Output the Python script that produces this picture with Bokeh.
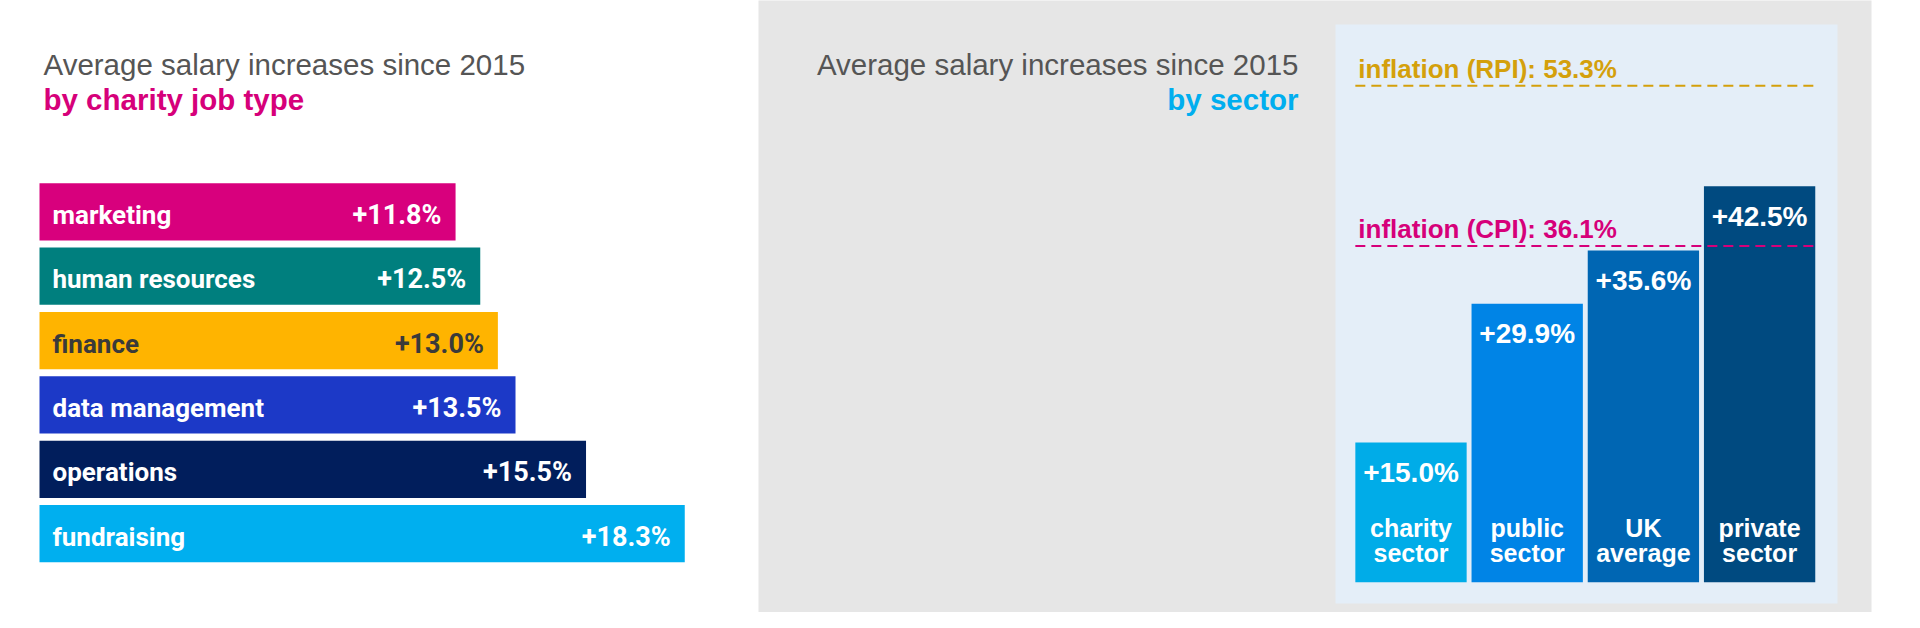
from bokeh.plotting import figure
from bokeh.models import Range1d, BoxAnnotation, Label, ColumnDataSource
from bokeh.core.properties import value
from bokeh.embed import file_html
from bokeh.resources import INLINE

# ---------------- data ----------------
job_types = ["marketing", "human resources", "finance", "data management", "operations", "fundraising"]
job_increase = [11.8, 12.5, 13.0, 13.5, 15.5, 18.3]
job_colors = ["#D8007D", "#007F7E", "#FFB400", "#1C39C7", "#011E5C", "#00AFEF"]
job_text_colors = ["#FFFFFF", "#FFFFFF", "#3A3A3A", "#FFFFFF", "#FFFFFF", "#FFFFFF"]

sectors = ["charity\nsector", "public\nsector", "UK\naverage", "private\nsector"]
sector_increase = [15.0, 29.9, 35.6, 42.5]
sector_colors = ["#00ACE8", "#0084E6", "#0066B3", "#004A80"]

inflation_names = ["inflation (RPI)", "inflation (CPI)"]
inflation_values = [53.3, 36.1]
inflation_colors = ["#D4A00B", "#D6007A"]

title_main = "Average salary increases since 2015"
title_left_sub = "by charity job type"
title_right_sub = "by sector"

# ---------------- layout constants (pixels) ----------------
W, H = 1904, 612
JOB_X0, JOB_K = 39.0, 35.26           # zero position and px per % (left panel)
JOB_Y0, JOB_PITCH = 78.8, 64.37       # lowest bar centre from bottom, pitch
SEC_X0, SEC_PITCH = 1410.5, 116.2     # first bar centre, pitch
SEC_Y0, SEC_K = 30.3, 9.315           # zero from bottom, px per %

p = figure(width=W, height=H, output_backend="svg", toolbar_location=None,
           x_range=Range1d(0, W), y_range=Range1d(0, H),
           x_axis_location=None, y_axis_location=None, min_border=0,
           background_fill_color="#FFFFFF", border_fill_color="#FFFFFF")
p.outline_line_color = None
p.grid.visible = False

p.extra_x_ranges = {
    "job": Range1d(-JOB_X0 / JOB_K, (W - JOB_X0) / JOB_K),
    "sec": Range1d(-SEC_X0 / SEC_PITCH, (W - SEC_X0) / SEC_PITCH),
}
p.extra_y_ranges = {
    "job": Range1d(-JOB_Y0 / JOB_PITCH, (H - JOB_Y0) / JOB_PITCH),
    "sec": Range1d(-SEC_Y0 / SEC_K, (H - SEC_Y0) / SEC_K),
}

# backgrounds
p.add_layout(BoxAnnotation(left=758, right=1871, bottom=-20, top=H + 20,
                           fill_color="#E6E6E6", fill_alpha=1, line_color=None, level="underlay"))
p.add_layout(BoxAnnotation(left=1335, right=1837, bottom=9, top=588,
                           fill_color="#E4EEF8", fill_alpha=1, line_color=None, level="underlay"))

# titles
for x, align, sub, sub_color in [(43, "left", title_left_sub, "#D6007A"),
                                 (1298, "right", title_right_sub, "#00AEEF")]:
    p.add_layout(Label(x=x, y=548, text=title_main, text_font="Liberation Sans",
                       text_font_size="29.5px", text_color="#555555",
                       text_align=align, text_baseline="middle"))
    p.add_layout(Label(x=x, y=513, text=sub, text_font="Liberation Sans",
                       text_font_size="29.5px", text_font_style="bold", text_color=sub_color,
                       text_align=align, text_baseline="middle"))

# ---------------- left panel: job types ----------------
n = len(job_types)
job_src = ColumnDataSource(dict(
    pos=[n - 1 - i for i in range(n)],
    job=job_types,
    val=job_increase,
    lab=[f"+{v:.1f}%" for v in job_increase],
    color=job_colors,
    tcolor=job_text_colors,
    zero=[0] * n,
))
p.hbar(y="pos", left="zero", right="val", height=0.89, fill_color="color", line_color=None,
       source=job_src, x_range_name="job", y_range_name="job")
p.text(x="zero", y="pos", text="job", source=job_src, x_range_name="job", y_range_name="job",
       text_font=value("Roboto"), text_font_style="bold", text_font_size=value("26px"),
       text_color="tcolor", text_align="left", text_baseline="middle",
       x_offset=13, y_offset=3)
p.text(x="val", y="pos", text="lab", source=job_src, x_range_name="job", y_range_name="job",
       text_font=value("Roboto"), text_font_style="bold", text_font_size=value("27px"),
       text_color="tcolor", text_align="right", text_baseline="middle",
       x_offset=-14, y_offset=3)

# ---------------- right panel: sectors ----------------
m = len(sectors)
bar_w = 0.958
sec_src = ColumnDataSource(dict(
    pos=list(range(m)),
    line1=[s.split("\n")[0] for s in sectors],
    line2=[s.split("\n")[1] for s in sectors],
    val=sector_increase,
    lab=[f"+{v:.1f}%" for v in sector_increase],
    color=sector_colors,
    zero=[0] * m,
))
p.vbar(x="pos", bottom="zero", top="val", width=bar_w, fill_color="color", line_color=None,
       source=sec_src, x_range_name="sec", y_range_name="sec")
p.text(x="pos", y="val", text="lab", source=sec_src, x_range_name="sec", y_range_name="sec",
       text_font=value("Liberation Sans"), text_font_style="bold", text_font_size=value("28px"),
       text_color="#FFFFFF", text_align="center", text_baseline="middle", y_offset=30)
p.text(x="pos", y="zero", text="line1", source=sec_src, x_range_name="sec", y_range_name="sec",
       text_font=value("Liberation Sans"), text_font_style="bold", text_font_size=value("25px"),
       text_color="#FFFFFF", text_align="center", text_baseline="middle", y_offset=-54)
p.text(x="pos", y="zero", text="line2", source=sec_src, x_range_name="sec", y_range_name="sec",
       text_font=value("Liberation Sans"), text_font_style="bold", text_font_size=value("25px"),
       text_color="#FFFFFF", text_align="center", text_baseline="middle", y_offset=-29)

# inflation reference lines
k = len(inflation_names)
inf_src = ColumnDataSource(dict(
    x0=[-bar_w / 2] * k,
    x1=[m - 1 + bar_w / 2] * k,
    val=inflation_values,
    lab=[f"{nm}: {v:.1f}%" for nm, v in zip(inflation_names, inflation_values)],
    color=inflation_colors,
))
p.segment(x0="x0", y0="val", x1="x1", y1="val", line_color="color", line_width=2,
          line_dash="10 6", source=inf_src, x_range_name="sec", y_range_name="sec")
p.text(x="x0", y="val", text="lab", source=inf_src, x_range_name="sec", y_range_name="sec",
       text_font=value("Liberation Sans"), text_font_style="bold", text_font_size=value("26px"),
       text_color="color", text_align="left", text_baseline="middle",
       x_offset=3, y_offset=-17)

open("out.html", "w").write(file_html(p, INLINE))
